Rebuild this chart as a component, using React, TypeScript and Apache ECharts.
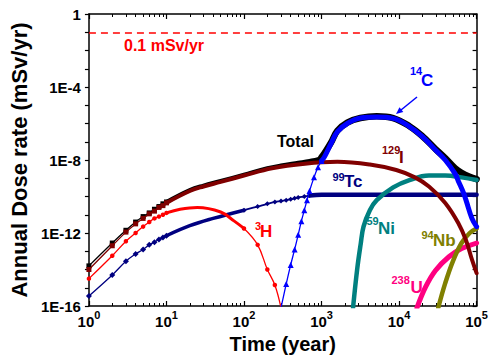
import React, { useEffect, useRef } from 'react';
import * as echarts from 'echarts';

// ---- data (time in years, dose in mSv/yr) ----
const totalTime = [1, 2, 3, 4, 5, 6, 7, 8, 9, 10, 20, 30, 50, 100, 200, 300, 500, 700, 900, 1000,
  1100, 1325, 1600, 2150, 3170, 5150, 8380, 13600, 20000, 29500, 39400, 52700, 64000, 80000, 100000];
const totalDose = [1.58e-14, 2.82e-13, 1.41e-12, 3.98e-12, 7.94e-12, 1.26e-11, 2.0e-11, 2.82e-11, 3.98e-11, 5.01e-11,
  2.24e-10, 3.98e-10, 7.08e-10, 1.58e-9, 3.55e-9, 5.01e-9, 7.08e-9, 8.91e-9, 1.12e-8, 1.41e-8,
  2.51e-8, 8.91e-8, 3.98e-7, 1.12e-6, 2.0e-6, 2.51e-6, 2.0e-6, 7.08e-7, 2.0e-7, 3.98e-8, 1.26e-8, 3.55e-9, 2.0e-9, 1.26e-9, 8.91e-10];

const i129Time = [1, 2, 3, 4, 5, 6, 7, 8, 9, 10, 20, 30, 50, 100, 230, 610, 1600, 4200, 9200, 16000,
  24300, 39400, 58000, 73000, 87000, 100000];
const i129Dose = [1.0e-14, 2.0e-13, 1.12e-12, 3.16e-12, 6.31e-12, 1.12e-11, 1.58e-11, 2.51e-11, 3.16e-11, 4.47e-11,
  2.0e-10, 3.55e-10, 6.31e-10, 1.41e-9, 3.55e-9, 6.31e-9, 7.94e-9, 5.62e-9, 2.82e-9, 1.12e-9,
  3.55e-10, 4.47e-11, 3.55e-12, 3.98e-13, 3.55e-14, 6.31e-15];

const h3Time = [1, 2, 3, 4, 5, 6, 7, 8, 9, 10, 15, 25, 50, 75, 100, 150, 200, 250, 300];
const h3Dose = [3.16e-15, 5.62e-14, 3.55e-13, 1.0e-12, 2.24e-12, 3.98e-12, 6.31e-12, 7.94e-12, 1.0e-11, 1.26e-11,
  2.0e-11, 2.51e-11, 1.41e-11, 4.47e-12, 1.78e-12, 2.24e-13, 1.0e-14, 1.41e-15, 7.94e-17];

const tc99Time = [1, 2, 3, 4, 5, 6, 7, 8, 9, 10, 20, 40, 100, 150, 200, 250, 300, 350, 400, 450, 500, 600, 700,
  1000, 10000, 100000];
const tc99Dose = [3.55e-16, 5.01e-15, 2.82e-14, 7.08e-14, 1.26e-13, 2.24e-13, 3.16e-13, 4.47e-13, 5.62e-13, 7.08e-13,
  2.51e-12, 6.31e-12, 1.78e-11, 2.82e-11, 3.98e-11, 5.01e-11, 5.62e-11, 6.31e-11, 7.08e-11, 7.94e-11, 8.91e-11, 1.0e-10, 1.12e-10,
  1.26e-10, 1.26e-10, 1.26e-10];

const c14Time = [300, 350, 400, 450, 500, 550, 600, 650, 700, 800, 900, 1000,
  1100, 1325, 1600, 2150, 3170, 5150, 8380, 13600, 20000, 29500, 39400, 52700, 58000, 67000, 73000, 87000, 100000];
const c14Dose = [7.94e-17, 1.58e-15, 1.78e-14, 1.26e-13, 7.94e-13, 4.47e-12, 1.78e-11, 6.31e-11, 2.0e-10, 1.12e-9, 3.98e-9, 8.91e-9,
  1.58e-8, 7.94e-8, 3.55e-7, 1.0e-6, 2.0e-6, 2.24e-6, 1.91e-6, 6.76e-7, 1.91e-7, 3.55e-8, 1.0e-8, 1.78e-9, 7.08e-10, 1.78e-10, 6.31e-11, 6.31e-12, 2.24e-12];

const ni59Time = [2550, 2880, 3200, 3480, 4200, 5150, 8400, 13600, 24300, 39400, 64000, 100000];
const ni59Dose = [7.94e-17, 1.0e-14, 2.51e-13, 2.24e-12, 1.78e-11, 6.31e-11, 3.16e-10, 7.94e-10, 1.41e-9, 1.41e-9, 1.12e-9, 7.94e-10];

const nb94Time = [32000, 39400, 50000, 64000, 81500, 100000];
const nb94Dose = [7.94e-17, 1.78e-15, 3.16e-14, 2.82e-13, 1.0e-12, 1.78e-12];

const u238Time = [17000, 22000, 29500, 44000, 64000, 100000];
const u238Dose = [7.94e-17, 1.12e-15, 8.91e-15, 5.01e-14, 1.41e-13, 2.82e-13];

const limitDose = 0.1; // mSv/yr
const xTickExponents = [0, 1, 2, 3, 4, 5];
const yTickValues = [1e-16, 1e-12, 1e-8, 1e-4, 1];
const yTickLabels = ['1E-16', '1E-12', '1E-8', '1E-4', '1'];

const FONT = '"Liberation Sans", Arial, Helvetica, sans-serif';

const toXY = (ts: number[], ds: number[]) => ts.map((t, i) => [Math.log10(t), Math.log10(ds[i])]);

function seg(name: string, color: string, ts: number[], ds: number[], from: number, to: number,
  width: number, symbol: string, size: number, z: number): any {
  const pts = toXY(ts, ds).slice(from, to + 1);
  return {
    type: 'line', name, data: pts, smooth: 0.4,
    showSymbol: symbol !== 'none', symbol: symbol === 'none' ? 'circle' : symbol, symbolSize: size,
    lineStyle: { color, width, cap: 'round', join: 'round' }, itemStyle: { color, borderWidth: 0 }, z, silent: true, clip: true,
    emphasis: { disabled: true },
  };
}

const minorLogs: number[] = [];
for (let e = 0; e < 5; e++) for (let k = 2; k <= 9; k++) minorLogs.push(Math.log10(k * Math.pow(10, e)));

function txt(text: string, x: number, y: number, size: number, color: string): any {
  return {
    type: 'text', x, y, silent: true,
    style: { text, fill: color, fontSize: size, fontWeight: 'bold', fontFamily: FONT, verticalAlign: 'top', align: 'left' },
  };
}

export default function App() {
  const ref = useRef<HTMLDivElement>(null);
  useEffect(() => {
    if (!ref.current) return;
    const chart = echarts.init(ref.current, undefined, { renderer: 'svg' });
    const axisColor = '#000';
    const yLabelMap: Record<string, string> = {};
    yTickValues.forEach((v, i) => { yLabelMap[String(Math.round(Math.log10(v)))] = yTickLabels[i]; });

    const xBase = (pos: string, minor: boolean, withLabels: boolean): any => ({
      type: 'value', min: xTickExponents[0], max: xTickExponents[xTickExponents.length - 1], interval: 1, position: pos,
      axisLine: { show: !minor, onZero: false, lineStyle: { color: axisColor, width: 1.5 } },
      axisTick: minor
        ? { show: true, inside: true, length: 3, customValues: minorLogs, lineStyle: { color: axisColor, width: 1 } }
        : { show: true, inside: true, length: 5, lineStyle: { color: axisColor, width: 1.2 } },
      splitLine: { show: false },
      axisLabel: withLabels ? {
        show: true, margin: 3,
        formatter: (v: number) => `{b|10}{s|${Math.round(v)}}`,
        rich: {
          b: { fontSize: 15, fontWeight: 'bold', fontFamily: FONT, color: '#000', lineHeight: 20, verticalAlign: 'bottom' },
          s: { fontSize: 11, fontWeight: 'bold', fontFamily: FONT, color: '#000', lineHeight: 12, verticalAlign: 'top' },
        },
      } : { show: false },
    });

    const yBase = (pos: string, withLabels: boolean): any => ({
      type: 'value', min: -16, max: 0, interval: 4, position: pos,
      axisLine: { show: true, onZero: false, lineStyle: { color: axisColor, width: 1.5 } },
      axisTick: { show: true, inside: pos === 'right', length: 4, lineStyle: { color: axisColor, width: 1.2 } },
      minorTick: { show: true, splitNumber: 4, length: 4, lineStyle: { color: axisColor, width: 1.2 } },
      splitLine: { show: false },
      axisLabel: withLabels ? {
        show: true, margin: 8, fontSize: 15, fontWeight: 'bold', fontFamily: FONT, color: '#000',
        formatter: (v: number) => yLabelMap[String(Math.round(v))] ?? '',
      } : { show: false },
    });

    const yAxisLeft = yBase('left', true);
    yAxisLeft.name = 'Annual Dose rate (mSv/yr)';
    yAxisLeft.nameLocation = 'middle';
    yAxisLeft.nameGap = 52;
    yAxisLeft.nameTextStyle = { fontSize: 22, fontWeight: 'bold', fontFamily: FONT, color: '#000' };

    const xAxisBottom = xBase('bottom', false, true);
    xAxisBottom.name = 'Time (year)';
    xAxisBottom.nameLocation = 'middle';
    xAxisBottom.nameGap = 25;
    xAxisBottom.nameTextStyle = { fontSize: 20, fontWeight: 'bold', fontFamily: FONT, color: '#000' };

    const BLACK = '#000000', DRED = '#800000', RED = '#ff0000', NAVY = '#000080', BLUE = '#0000ff',
      TEAL = '#008080', OLIVE = '#808000', PINK = '#ff0080';

    const series: any[] = [
      // Total
      seg('Total', BLACK, totalTime, totalDose, 0, 9, 1.3, 'rect', 5, 2),
      seg('Total', BLACK, totalTime, totalDose, 9, 19, 4, 'none', 0, 2),
      seg('Total', BLACK, totalTime, totalDose, 19, 34, 6.5, 'none', 0, 2),
      // 99Tc
      seg('99Tc', NAVY, tc99Time, tc99Dose, 0, 9, 1.3, 'diamond', 6, 3),
      seg('99Tc', NAVY, tc99Time, tc99Dose, 9, 12, 3.5, 'none', 0, 3),
      seg('99Tc', NAVY, tc99Time, tc99Dose, 12, 22, 1.8, 'diamond', 5, 3),
      seg('99Tc', NAVY, tc99Time, tc99Dose, 22, 25, 4.5, 'none', 0, 3),
      // 238U
      seg('238U', PINK, u238Time, u238Dose, 0, 5, 5, 'none', 0, 4),
      // 94Nb
      seg('94Nb', OLIVE, nb94Time, nb94Dose, 0, 5, 4.5, 'none', 0, 5),
      // 59Ni
      seg('59Ni', TEAL, ni59Time, ni59Dose, 0, 11, 4.5, 'none', 0, 6),
      // 3H
      seg('3H', RED, h3Time, h3Dose, 0, 9, 1.3, 'circle', 4.5, 7),
      seg('3H', RED, h3Time, h3Dose, 9, 14, 3, 'none', 0, 7),
      seg('3H', RED, h3Time, h3Dose, 14, 18, 1.3, 'circle', 4.5, 7),
      // 129I
      seg('129I', DRED, i129Time, i129Dose, 0, 9, 1.3, 'rect', 5, 8),
      seg('129I', DRED, i129Time, i129Dose, 9, 25, 4, 'none', 0, 8),
      // 14C
      seg('14C', BLUE, c14Time, c14Dose, 0, 11, 1.3, 'triangle', 6, 9),
      seg('14C', BLUE, c14Time, c14Dose, 11, 28, 5, 'none', 0, 9),
    ];
    series[0].markLine = {
      silent: true, symbol: ['none', 'none'], label: { show: false },
      lineStyle: { color: RED, type: [7, 5], width: 1.5 },
      data: [{ yAxis: Math.log10(limitDose) }],
    };

    chart.setOption({
      animation: false,
      backgroundColor: '#ffffff',
      grid: { left: 86, right: 9, top: 14, bottom: 56, containLabel: false },
      xAxis: [xAxisBottom, xBase('bottom', true, false), xBase('top', false, false), xBase('top', true, false)],
      yAxis: [yAxisLeft, yBase('right', false)],
      series,
      graphic: [
        txt('0.1 mSv/yr', 124, 37.5, 16, RED),
        txt('Total', 277, 133.5, 16, BLACK),
        txt('14', 410, 65.5, 11, BLUE), txt('C', 421, 71.5, 17, BLUE),
        txt('129', 382, 144.5, 11, DRED), txt('I', 399, 148.5, 17, DRED),
        txt('99', 332.5, 171.5, 11, NAVY), txt('Tc', 344, 172.5, 17, NAVY),
        txt('3', 255, 220.5, 11, RED), txt('H', 260, 222.5, 17, RED),
        txt('59', 366.5, 215.5, 11, TEAL), txt('Ni', 378, 219.5, 17, TEAL),
        txt('94', 421.5, 229.5, 11, OLIVE), txt('Nb', 433, 231.5, 17, OLIVE),
        txt('238', 391.5, 274.5, 11, PINK), txt('U', 410.5, 279, 17, PINK),
        { type: 'line', silent: true, shape: { x1: 417, y1: 97, x2: 401, y2: 110 }, style: { stroke: BLUE, lineWidth: 1.5 } },
        { type: 'polygon', silent: true, shape: { points: [[396, 114], [403.3, 111.9], [399.5, 107.3]] }, style: { fill: BLUE } },
      ],
    });
    return () => chart.dispose();
  }, []);
  return <div ref={ref} style={{ position: 'fixed', left: 0, top: 0, width: 491, height: 362, background: '#fff' }} />;
}
